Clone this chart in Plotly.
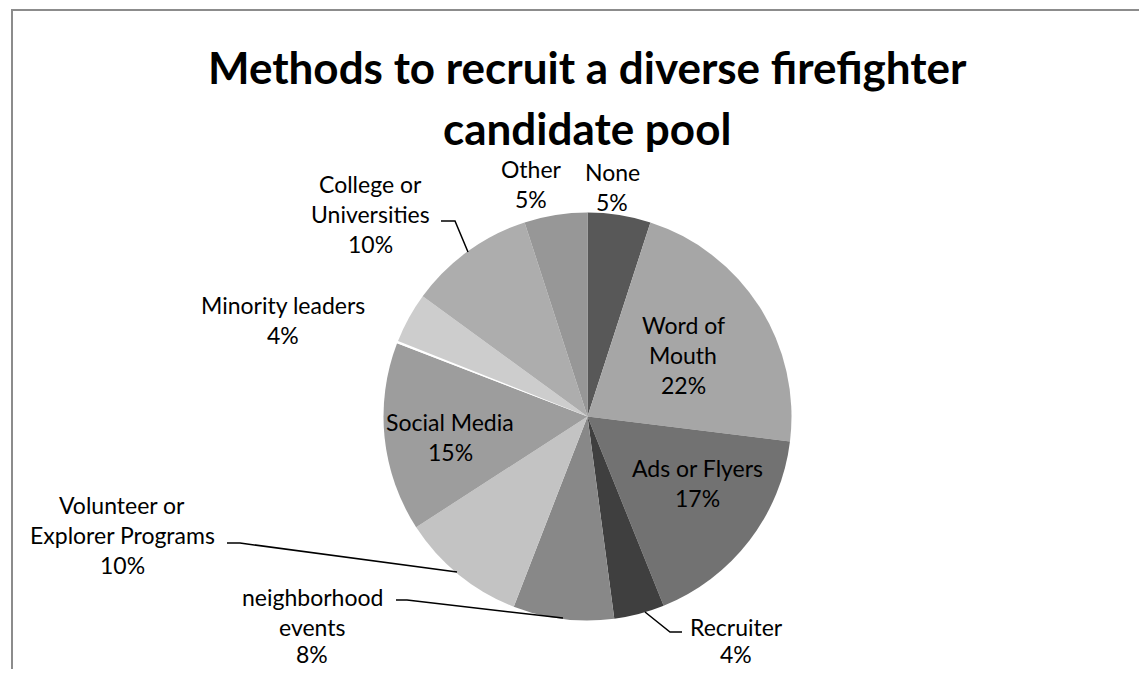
import plotly.graph_objects as go

# page body has an 8px margin; figure is sized to fit inside the 1147x677 window
OFF = 8
W, H = 1147 - 2 * OFF, 677 - 2 * OFF

labels = ["None", "Word of Mouth", "Ads or Flyers", "Recruiter", "neighborhood events",
          "Volunteer or Explorer Programs", "Social Media", "(gap)", "Minority leaders",
          "College or Universities", "Other"]
values = [5, 22, 17, 4, 8, 10, 15, 0.2, 4, 10, 5]
colors = ["#585858", "#a6a6a6", "#727272", "#3f3f3f", "#888888",
          "#c3c3c3", "#9d9d9d", "#ffffff", "#cdcdcd", "#adadad", "#979797"]

title_lines = ["Methods to recruit a diverse firefighter", "candidate pool"]

label_lines = {
    "None": ["None"],
    "Word of Mouth": ["Word of", "Mouth"],
    "Ads or Flyers": ["Ads or Flyers"],
    "Recruiter": ["Recruiter"],
    "neighborhood events": ["neighborhood", "events"],
    "Volunteer or Explorer Programs": ["Volunteer or", "Explorer Programs"],
    "Social Media": ["Social Media"],
    "Minority leaders": ["Minority leaders"],
    "College or Universities": ["College or", "Universities"],
    "Other": ["Other"],
}
# screen-pixel anchors (center x, first-line center y)
label_pos = {
    "None": (612, 172),
    "Word of Mouth": (683, 325),
    "Ads or Flyers": (697, 468),
    "Recruiter": (736, 627),
    "neighborhood events": (312, 597),
    "Volunteer or Explorer Programs": (122, 505),
    "Social Media": (450, 422),
    "Minority leaders": (283, 305),
    "College or Universities": (370, 184),
    "Other": (531, 169),
}
leaders = {
    "College or Universities": [(441, 221), (455, 221), (468, 252)],
    "Recruiter": [(645, 612), (670, 632), (682, 632)],
    "neighborhood events": [(396, 600), (407, 600), (563, 618)],
    "Volunteer or Explorer Programs": [(227, 543), (240, 543), (457, 572)],
}

FONT = "Lato"
LINE = 30.2
YMAX = 654  # keep the lowest text line inside the figure

def px(x):
    return (x - OFF) / W

def py(y):
    return 1 - (y - OFF) / H

cx, cy, r = 587.5, 416.5, 204

fig = go.Figure(go.Pie(
    labels=labels, values=values, sort=False, direction="clockwise", rotation=0,
    marker=dict(colors=colors, line=dict(width=0)),
    textinfo="none", hoverinfo="label+value", showlegend=False,
    domain=dict(x=[px(cx - r), px(cx + r)], y=[py(cy + r), py(cy - r)]),
))

annotations = []
for i, t in enumerate(title_lines):
    annotations.append(dict(x=px(587), y=py(67 + i * 61), xref="paper", yref="paper",
                            text=f"<b>{t}</b>", showarrow=False, xanchor="center", yanchor="middle",
                            font=dict(family=FONT, size=44, color="#000000")))

for lab, v in zip(labels, values):
    if lab not in label_lines:
        continue
    x0, y0 = label_pos[lab]
    lines = label_lines[lab] + [f"{v:g}%"]
    for j, ln in enumerate(lines):
        yy = min(y0 + j * LINE, YMAX)
        annotations.append(dict(x=px(x0), y=py(yy), xref="paper", yref="paper",
                                text=ln, showarrow=False, xanchor="center", yanchor="middle",
                                borderpad=0, font=dict(family=FONT, size=23, color="#000000")))

shapes = [dict(type="rect", xref="paper", yref="paper", x0=px(12), x1=px(1170), y0=py(720), y1=py(10),
               line=dict(color="#8c8c8c", width=2), fillcolor="rgba(0,0,0,0)")]
for lab, pts in leaders.items():
    path = "M " + " L ".join(f"{px(a)},{py(b)}" for a, b in pts)
    shapes.append(dict(type="path", xref="paper", yref="paper", path=path,
                       line=dict(color="#000000", width=1.5)))

fig.update_layout(width=W, height=H, margin=dict(l=0, r=0, t=0, b=0),
                  paper_bgcolor="white", plot_bgcolor="white",
                  annotations=annotations, shapes=shapes)

fig.write_html("out.html")
